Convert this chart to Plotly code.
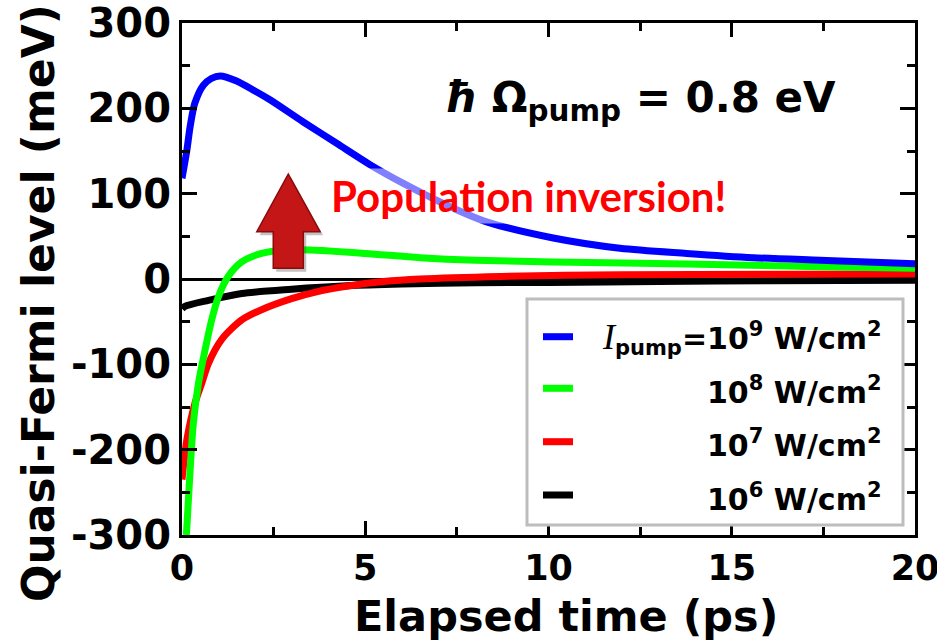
import plotly.graph_objects as go

# ---------------- data ----------------
t_blue = [0.0, 0.13, 0.22, 0.35, 0.58, 0.8, 1.04, 1.49, 2.0, 2.4, 3.31, 4.22, 5.13, 6.04, 6.58, 7.4, 8.31, 10.13, 11.95, 13.77, 15.59, 17.41, 20.0]
e_blue = [118, 150, 178, 206, 227, 235, 238, 232, 220, 210, 184, 159, 134, 112, 100, 83, 67, 48, 36, 30, 25, 22, 18]

t_green = [0.12, 0.2, 0.31, 0.45, 0.63, 0.81, 0.99, 1.26, 1.63, 2.17, 2.81, 3.5, 5.0, 6.5, 8.0, 10.13, 13.77, 17.41, 20.0]
e_green = [-300, -240, -169, -122, -83, -48, -21, 3, 20, 30, 34, 34, 30, 25, 22, 20, 17.5, 14.5, 12.5]

t_red = [0.0, 0.13, 0.35, 0.54, 0.72, 1.08, 1.63, 2.17, 2.99, 3.67, 4.58, 5.5, 6.5, 8.7, 12.0, 16.0, 20.0]
e_red = [-235, -189, -146, -122, -99, -71, -48, -36, -23, -15, -8, -3, 0, 3, 5, 5.5, 6]

t_black = [0.0, 0.08, 0.72, 1.63, 2.99, 4.5, 6.0, 8.0, 10.0, 13.0, 16.0, 20.0]
e_black = [-35, -32, -25, -17, -12, -8, -6, -4.5, -4, -3, -2, -1.5]

y_tickvals = [-300, -200, -100, 0, 100, 200, 300]
y_ticktext = ["-300", "-200", "-100", "0", "100", "200", "300"]
x_tickvals = [0, 5, 10, 15, 20]
x_ticktext = ["0", "5", "10", "15", "20"]

legend_labels = [
    "<span style='font-family:Liberation Serif;font-weight:normal;font-size:36px'><i>I</i></span><sub>pump</sub>=10<sup>9</sup> W/cm<sup>2</sup>",
    "10<sup>8</sup> W/cm<sup>2</sup>",
    "10<sup>7</sup> W/cm<sup>2</sup>",
    "10<sup>6</sup> W/cm<sup>2</sup>",
]
legend_colors = ["#0000ff", "#00ff00", "#ff0000", "#000000"]

FONT = "DejaVu Sans"

fig = go.Figure()
# draw order bottom -> top : black, red, green, blue
for t, e, c in [(t_black, e_black, "#000000"), (t_red, e_red, "#ff0000"),
                (t_green, e_green, "#00ff00"), (t_blue, e_blue, "#0000ff")]:
    fig.add_trace(go.Scatter(x=t, y=e, mode="lines",
                             line=dict(color=c, width=7, shape="spline", smoothing=0.8),
                             showlegend=False, hoverinfo="skip"))

# plot geometry (pixels)
L, R, T, B = 182, 915, 23, 535
W, H = 937, 641


def px(xp):
    return (xp - L) / (R - L)


def py(yp):
    return (B - yp) / (B - T)


shapes = []
# red up-arrow (decoration) with shadow
arrow = "M 2.90,123 L 3.77,55.4 L 3.31,55.4 L 3.31,12.5 L 2.49,12.5 L 2.49,55.4 L 2.04,55.4 Z"
shadow = "M 2.98,119 L 3.85,51.4 L 3.39,51.4 L 3.39,8.5 L 2.57,8.5 L 2.57,51.4 L 2.12,51.4 Z"
shapes.append(dict(type="path", path=shadow, xref="x", yref="y", fillcolor="rgba(80,80,80,0.35)",
                   line=dict(width=0), layer="above"))
shapes.append(dict(type="path", path=arrow, xref="x", yref="y", fillcolor="#c41616",
                   line=dict(color="#8a0b0b", width=1.5), layer="above"))

# legend box
shapes.append(dict(type="rect", xref="paper", yref="paper", x0=px(527), x1=px(903), y0=py(525), y1=py(299),
                   fillcolor="white", line=dict(color="#bdbdbd", width=3), layer="above"))
row_y = [336.7, 388.3, 441.7, 495]
for yy, c in zip(row_y, legend_colors):
    shapes.append(dict(type="line", xref="paper", yref="paper", x0=px(543), x1=px(573), y0=py(yy), y1=py(yy),
                       line=dict(color=c, width=7), layer="above"))

annotations = []
for yy, lab in zip(row_y, legend_labels):
    annotations.append(dict(xref="paper", yref="paper", x=px(884), y=py(yy + 2), xanchor="right", yanchor="middle",
                            text=lab, showarrow=False,
                            font=dict(family=FONT, size=30, color="black", weight="bold")))

annotations.append(dict(xref="paper", yref="paper", x=px(640), y=py(100), xanchor="center", yanchor="middle",
                        text="<i>ħ</i> Ω<sub>pump</sub> = 0.8 eV", showarrow=False,
                        font=dict(family=FONT, size=42, color="black", weight="bold")))
annotations.append(dict(xref="paper", yref="paper", x=px(528), y=py(196), xanchor="center", yanchor="middle",
                        text="Population inversion!", showarrow=False, bgcolor="rgba(255,255,255,0.5)",
                        borderpad=2,
                        font=dict(family="Lato", size=42, color="#ff0000", weight="bold")))
annotations.append(dict(xref="paper", yref="paper", x=px(566), y=py(616), xanchor="center", yanchor="middle",
                        text="Elapsed time (ps)", showarrow=False,
                        font=dict(family=FONT, size=43, color="black", weight="bold")))
annotations.append(dict(xref="paper", yref="paper", x=px(38), y=py(303), xanchor="center", yanchor="middle",
                        text="Quasi-Fermi level (meV)", showarrow=False, textangle=-90,
                        font=dict(family=FONT, size=44, color="black", weight="bold")))

fig.update_layout(
    width=W, height=H,
    margin=dict(l=L, r=W - R, t=T, b=H - B),
    plot_bgcolor="white", paper_bgcolor="white",
    shapes=shapes, annotations=annotations,
    showlegend=False,
)
fig.update_xaxes(range=[0, 20], tickvals=x_tickvals, ticktext=x_ticktext, ticklabeloverflow="allow",
                 automargin=False,
                 showgrid=False, zeroline=False, showline=True, linecolor="black", linewidth=3,
                 mirror="ticks", ticks="inside", ticklen=14, tickwidth=3, tickcolor="black",
                 tickfont=dict(family=FONT, size=35, color="black", weight="bold"),
                 minor=dict(dtick=2.5, ticks="inside", ticklen=8, tickwidth=3, tickcolor="black", showgrid=False))
fig.update_yaxes(range=[-300, 300], tickvals=y_tickvals, ticktext=y_ticktext, ticklabeloverflow="allow",
                 automargin=False,
                 showgrid=False, zeroline=True, zerolinecolor="black", zerolinewidth=2.5,
                 showline=True, linecolor="black", linewidth=3,
                 mirror="ticks", ticks="inside", ticklen=15, tickwidth=3, tickcolor="black",
                 tickfont=dict(family=FONT, size=40, color="black", weight="bold"),
                 minor=dict(dtick=50, ticks="inside", ticklen=8, tickwidth=3, tickcolor="black", showgrid=False))

fig.write_html("out.html")
